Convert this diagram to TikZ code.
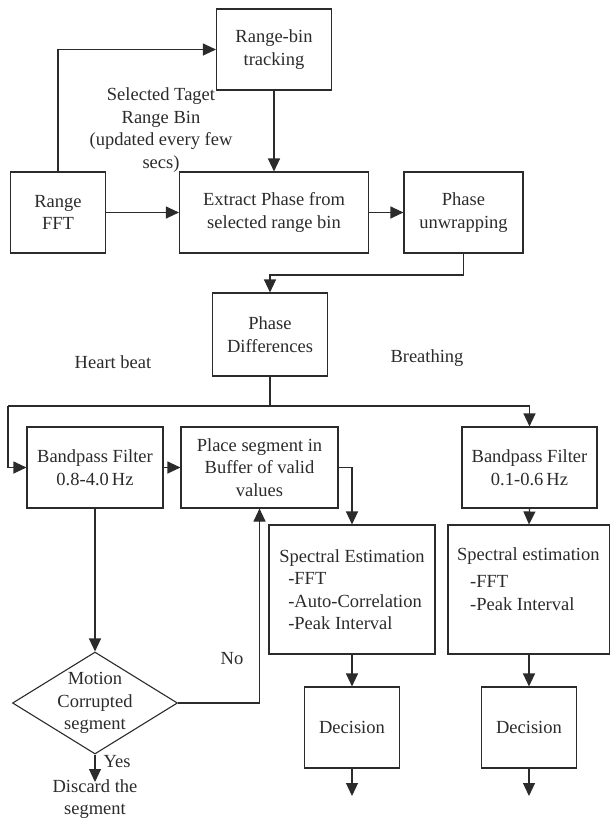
\documentclass[tikz,border=0pt]{standalone}
\usepackage{fontspec}
\setmainfont{Liberation Serif}
\usetikzlibrary{shapes.geometric,arrows.meta}
\definecolor{ink}{HTML}{2B2B2B}
\begin{document}
\begin{tikzpicture}[x=1pt,y=-1pt,
  font=\fontsize{18.5}{22.5}\selectfont,
  box/.style={draw=ink, line width=1.1pt, align=center, inner sep=0pt, text=ink},
  ln/.style={draw=ink, line width=1.1pt},
  arr/.style={ln, -{Triangle[length=13pt,width=12pt]}},
  txt/.style={text=ink, align=center, inner sep=0pt}]
\useasboundingbox (0,0) rectangle (610,820);
% top row
\node[box, minimum width=115pt, minimum height=81pt] (track) at (274,49.5) {Range-bin\\tracking};
\node[box, minimum width=95pt, minimum height=81pt] (fft) at (58,212.5) {Range\\FFT};
\node[box, minimum width=189pt, minimum height=81pt] (extract) at (274,212.5) {Extract Phase from\\selected range bin};
\node[box, minimum width=119pt, minimum height=81pt] (unwrap) at (463.5,212.5) {Phase\\unwrapping};
\node[txt] (sel) at (161,130) {Selected Taget\\Range Bin\\(updated every few\\secs)};
% middle
\node[box, minimum width=115pt, minimum height=83pt] (diff) at (270,334.5) {Phase\\Differences};
\node[txt] (heart) at (113,362) {Heart beat};
\node[txt] (breath) at (427,358) {Breathing};
\node[box, minimum width=136pt, minimum height=81pt] (bpl) at (95,467.5) {Bandpass Filter\\0.8-4.0\,Hz};
\node[box, minimum width=157pt, minimum height=81pt] (place) at (259.5,467.5) {Place segment in\\Buffer of valid\\values};
\node[box, minimum width=135pt, minimum height=81pt] (bpr) at (529.5,467.5) {Bandpass Filter\\0.1-0.6\,Hz};
% lower
\node[box, minimum width=166pt, minimum height=129pt, align=left] (specl) at (352,589.5)
  {Spectral Estimation\\\hspace{9pt}-FFT\\\hspace{9pt}-Auto-Correlation\\\hspace{9pt}-Peak Interval};
\node[box, minimum width=162pt, minimum height=129pt] (specr) at (529,589.5) {};
\node[txt, align=left, anchor=north west] (specrt) at (457,547)
  {Spectral estimation\\[5pt]\hspace{13pt}-FFT\\\hspace{13pt}-Peak Interval};
\node[box, minimum width=95pt, minimum height=81pt] (decl) at (352,727.5) {Decision};
\node[box, minimum width=95pt, minimum height=81pt] (decr) at (529,727.5) {Decision};
\node[diamond, draw=ink, line width=1.1pt, minimum width=165pt, minimum height=102pt, inner sep=0pt] (dia) at (95,703) {};
\node[txt] (diat) at (dia.center) {Motion\\Corrupted\\segment};
\node[txt] (no) at (232,659) {No};
\node[txt] (yes) at (117,762) {Yes};
\node[txt] (discard) at (95,799) {Discard the\\segment};
% coordinates
\coordinate (j1) at (0,275);
\coordinate (busl) at (8,406);
\coordinate (busr) at (529.5,406);
\coordinate (yesend) at (95,782);
\coordinate (outl) at (352,796);
\coordinate (outr) at (529,796);
% connectors
\draw[arr] (fft.north) |- (track.west);
\draw[arr] (track.south) -- (extract.north);
\draw[arr] (fft.east) -- (extract.west);
\draw[arr] (extract.east) -- (unwrap.west);
\draw[arr] (unwrap.south) -- (unwrap.south |- j1) -| (diff.north);
\draw[ln] (diff.south) -- (diff.south |- busl);
\draw[ln] (busl) -- (busr);
\draw[arr] (busl) |- (bpl.west);
\draw[arr] (busr) -- (bpr.north);
\draw[arr] (bpl.east) -- (place.west);
\draw[arr] (place.east) -| (specl.north);
\draw[arr] (bpr.south) -- (specr.north);
\draw[arr] (bpl.south) -- (dia.north);
\draw[arr] (dia.east) -| (place.south);
\draw[arr] (dia.south) -- (yesend);
\draw[arr] (specl.south) -- (decl.north);
\draw[arr] (specr.south) -- (decr.north);
\draw[arr] (decl.south) -- (outl);
\draw[arr] (decr.south) -- (outr);
\end{tikzpicture}
\end{document}
